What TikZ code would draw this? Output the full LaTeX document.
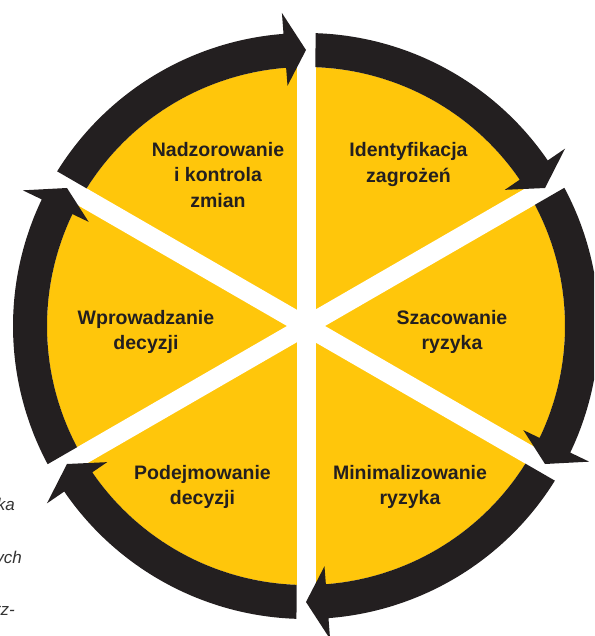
\documentclass[tikz,border=0pt]{standalone}
\usepackage{fontspec}
\setmainfont{Liberation Sans}
\usepackage{tikz}
\definecolor{ringblack}{HTML}{231F20}
\definecolor{discyellow}{HTML}{FFC60B}

\begin{document}
\begin{tikzpicture}[x=1pt,y=1pt,
  whitegap/.style={white,line width=19},
  ringarrow/.style={fill=ringblack},
  sectorlabel/.style={text=ringblack,font=\fontsize{19.5}{25.5}\selectfont\bfseries,align=center,inner sep=0pt},
  pagetext/.style={text=black!80,font=\fontsize{17}{20}\selectfont\itshape,anchor=base east,inner sep=0pt}]
\useasboundingbox (-306,-310) rectangle (288,326);
\clip (-306,-310) rectangle (288,326);

\coordinate (c) at (0,0);
\fill [discyellow] (c) circle (259);

\draw [whitegap] (150:262)--(-30:262);
\draw [whitegap] (90:262)--(-90:262);
\draw [whitegap] (30:262)--(210:262);

% top
\fill [ringarrow] (147.90:259) arc [start angle=147.90, end angle=94.4, radius=259] -- (94.4:241) -- (90:276) -- (94.4:314) -- (94.4:293) arc [start angle=94.4, end angle=148.14, radius=293] -- cycle;
% upper right
\fill [ringarrow] (87.90:259) arc [start angle=87.90, end angle=34.4, radius=259] -- (34.4:241) -- (30:276) -- (34.4:314) -- (34.4:293) arc [start angle=34.4, end angle=88.14, radius=293] -- cycle;
% right
\fill [ringarrow] (27.90:259) arc [start angle=27.90, end angle=-25.6, radius=259] -- (-25.6:241) -- (-30:276) -- (-25.6:314) -- (-25.6:293) arc [start angle=-25.6, end angle=28.14, radius=293] -- cycle;
% lower right
\fill [ringarrow] (-32.10:259) arc [start angle=-32.10, end angle=-85.6, radius=259] -- (-85.6:241) -- (-90:276) -- (-85.6:314) -- (-85.6:293) arc [start angle=-85.6, end angle=-31.86, radius=293] -- cycle;
% bottom
\fill [ringarrow] (-92.10:259) arc [start angle=-92.10, end angle=-145.6, radius=259] -- (-145.6:241) -- (-150:276) -- (-145.6:314) -- (-145.6:293) arc [start angle=-145.6, end angle=-91.86, radius=293] -- cycle;
% left
\fill [ringarrow] (207.90:259) arc [start angle=207.90, end angle=154.4, radius=259] -- (154.4:241) -- (150:276) -- (154.4:314) -- (154.4:293) arc [start angle=154.4, end angle=208.14, radius=293] -- cycle;

\node [sectorlabel] (nadzor) at (-88,151) {Nadzorowanie\\i kontrola\\zmian};
\node [sectorlabel] (ident) at (102.5,161.5) {Identyfikacja\\zagrożeń};
\node [sectorlabel] (wprow) at (-160,-6) {Wprowadzanie\\decyzji};
\node [sectorlabel] (szac) at (146,-6) {Szacowanie\\ryzyka};
\node [sectorlabel] (podejm) at (-103.5,-161) {Podejmowanie\\decyzji};
\node [sectorlabel] (minim) at (104,-161) {Minimalizowanie\\ryzyka};

\node [pagetext] (frag1) at (-291,-184) {ka};
\node [pagetext] (frag2) at (-284,-237) {ych};
\node [pagetext] (frag3) at (-291,-289) {rz-};

\end{tikzpicture}
\end{document}
